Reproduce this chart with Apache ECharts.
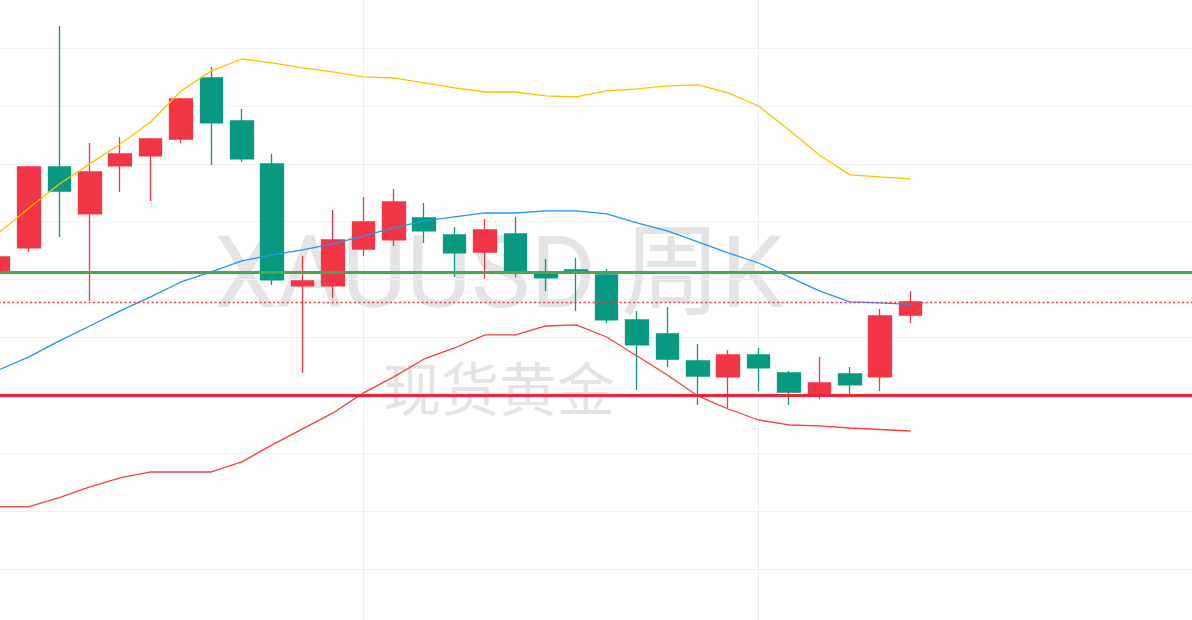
<!DOCTYPE html>
<html>
<head>
<meta charset="utf-8">
<script src="https://cdn.jsdelivr.net/npm/echarts@6/dist/echarts.min.js"></script>
<style>
html,body{margin:0;padding:0;background:#fff;}
#c{width:1192px;height:620px;}
</style>
</head>
<body>
<div id="c"></div>
<script>
// weekly categories (trailing ones are empty slots on the right)
var categories = [
 "2025-01-06","2025-01-13","2025-01-20","2025-01-27","2025-02-03","2025-02-10","2025-02-17","2025-02-24",
 "2025-03-03","2025-03-10","2025-03-17","2025-03-24","2025-03-31","2025-04-07","2025-04-14","2025-04-21",
 "2025-04-28","2025-05-05","2025-05-12","2025-05-19","2025-05-26","2025-06-02","2025-06-09","2025-06-16",
 "2025-06-23","2025-06-30","2025-07-07","2025-07-14","2025-07-21","2025-07-28","2025-08-04","2025-08-11",
 "2025-08-18","2025-08-25","2025-09-01","2025-09-08","2025-09-15","2025-09-22","2025-09-29","2025-10-06",
 "2025-10-13"
];
var opens  = [3455.7,3477.3,3547.3,3506.7,3548.1,3556.8,3571.4,3624.1,3587.0,3549.9,3444.5,3444.5,3476.4,3484.2,3503.2,3488.5,3473.8,3489.4,3456.6,3458.3,3454.0,3415.1,3403.0,3379.7,3365.9,3384.9,3369.3,3351.2,3368.5,3365.9,3419.4];
var closes = [3469.5,3547.3,3526.5,3542.9,3558.5,3571.4,3606.0,3585.3,3554.2,3449.7,3448.8,3484.2,3499.8,3517.0,3492.0,3473.0,3492.8,3457.4,3451.4,3457.0,3415.1,3393.5,3381.4,3366.7,3384.9,3373.7,3352.9,3360.7,3359.0,3418.6,3430.7];
var lows   = [3454.0,3473.8,3486.8,3431.5,3525.7,3517.9,3568.0,3549.0,3551.6,3445.3,3369.3,3434.1,3470.4,3479.0,3481.6,3452.3,3450.5,3452.3,3440.2,3422.9,3412.5,3354.7,3374.5,3341.7,3339.1,3353.8,3341.7,3346.9,3349.5,3353.8,3412.5];
var highs  = [3471.3,3548.1,3669.0,3568.0,3573.2,3572.3,3606.9,3633.6,3597.4,3558.5,3470.4,3510.1,3521.4,3528.3,3516.2,3495.4,3502.3,3504.1,3467.8,3468.7,3459.2,3422.9,3426.3,3394.4,3389.2,3390.9,3371.1,3383.2,3374.5,3424.6,3440.2];
var bollUpper = [3490.3,3511.9,3532.6,3549.9,3567.1,3586.1,3612.9,3630.2,3640.5,3637.1,3632.8,3629.3,3625.0,3624.1,3619.8,3615.5,3612.0,3612.0,3608.6,3607.7,3612.9,3614.6,3617.2,3618.1,3611.2,3599.9,3579.2,3557.6,3540.4,3538.6,3536.9];
var bollMid   = [3371.9,3383.2,3397.0,3409.9,3422.9,3435.0,3447.9,3456.6,3466.1,3471.3,3475.6,3480.8,3487.7,3494.6,3500.6,3504.1,3507.5,3507.5,3509.3,3509.3,3506.7,3498.9,3492.0,3482.5,3473.0,3464.3,3452.3,3440.2,3430.7,3429.8,3428.5];
var bollLower = [3253.9,3253.9,3261.6,3270.9,3278.7,3283.8,3283.8,3283.8,3292.5,3307.2,3321.0,3334.8,3352.1,3365.9,3381.4,3390.9,3402.2,3402.2,3409.9,3410.8,3400.4,3384.0,3367.6,3349.5,3338.2,3328.7,3324.4,3323.6,3321.8,3320.5,3319.2];
var resistanceLevel = 3456.6;
var supportLevel = 3350.3;
var lastPrice = 3430.7;
var yTicks = {min: 3150, max: 3700, interval: 50};
var watermarkMain = "XAUUSD 周K";
var watermarkSub = "现货黄金";

var candleData = opens.map(function (o, i) { return [o, closes[i], lows[i], highs[i]]; });

var chart = echarts.init(document.getElementById('c'), null, {renderer: 'canvas'});
chart.setOption({
  animation: false,
  backgroundColor: '#ffffff',
  graphic: [
    {type: 'text', z: -10, x: 499, y: 282, style: {text: watermarkMain, fontSize: 100, fontFamily: 'Roboto, "Noto Sans CJK SC", sans-serif', fill: 'rgba(120,120,130,0.2)', textAlign: 'center', textVerticalAlign: 'middle'}},
    {type: 'text', z: -10, x: 499, y: 389, style: {text: watermarkSub, fontSize: 58, fontFamily: '"Noto Sans CJK SC", sans-serif', fill: 'rgba(120,120,130,0.2)', textAlign: 'center', textVerticalAlign: 'middle'}}
  ],
  grid: {left: -1.4, top: -9.9, width: 1216, height: 636.8, containLabel: false, outerBoundsMode: 'none'},
  xAxis: {
    type: 'category', data: categories, boundaryGap: false,
    axisLine: {show: false}, axisTick: {show: false}, axisLabel: {show: false},
    splitLine: {show: true, interval: function (idx) { return idx === 12 || idx === 25; }, lineStyle: {color: '#eceef1', width: 1}}
  },
  yAxis: {
    type: 'value', min: yTicks.min, max: yTicks.max, interval: yTicks.interval,
    axisLine: {show: false}, axisTick: {show: false}, axisLabel: {show: false},
    splitLine: {show: true, lineStyle: {color: '#f0f1f4', width: 1}}
  },
  series: [
    {
      type: 'candlestick', data: candleData, barWidth: 23, z: 2,
      itemStyle: {color: '#F23645', color0: '#089981', borderColor: '#F23645', borderColor0: '#089981', borderWidth: 1.3}
    },
    {type: 'line', data: bollUpper, symbol: 'none', z: 3, lineStyle: {color: '#FFC000', width: 1.3}},
    {type: 'line', data: bollMid, symbol: 'none', z: 3, lineStyle: {color: '#2196F3', width: 1.3}},
    {type: 'line', data: bollLower, symbol: 'none', z: 3, lineStyle: {color: '#F44336', width: 1.3}},
    {
      type: 'line', data: [], z: 4,
      markLine: {
        silent: true, symbol: 'none', label: {show: false}, animation: false,
        data: [
          {yAxis: resistanceLevel, lineStyle: {color: '#4CA64F', width: 3, type: 'solid'}},
          {yAxis: supportLevel, lineStyle: {color: '#F7213A', width: 3, type: 'solid'}},
          {yAxis: lastPrice, lineStyle: {color: '#F23645', width: 1.3, type: [2, 2.5]}}
        ]
      }
    }
  ]
});
</script>
</body>
</html>
